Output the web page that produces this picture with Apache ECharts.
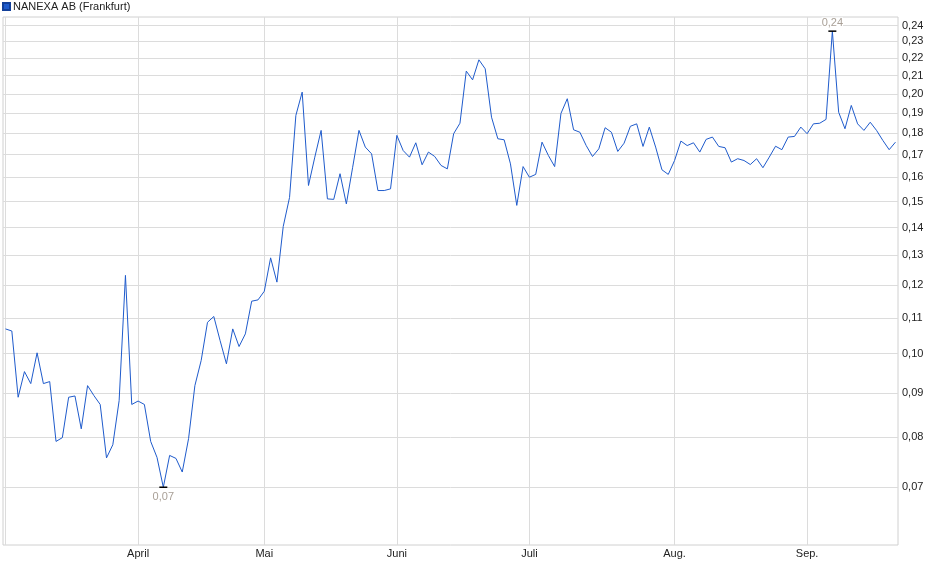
<!DOCTYPE html>
<html>
<head>
<meta charset="utf-8">
<script src="https://cdn.jsdelivr.net/npm/echarts@6/dist/echarts.min.js"></script>
<style>
  html, body { margin: 0; padding: 0; background: #fff; }
  #chart { width: 940px; height: 579px; }
</style>
</head>
<body>
<div id="chart"></div>
<script>
// Trading days (Frankfurt), 2025
const dates = [
  '2025-03-03','2025-03-04','2025-03-05','2025-03-06','2025-03-07',
  '2025-03-10','2025-03-11','2025-03-12','2025-03-13','2025-03-14',
  '2025-03-17','2025-03-18','2025-03-19','2025-03-20','2025-03-21',
  '2025-03-24','2025-03-25','2025-03-26','2025-03-27','2025-03-28',
  '2025-03-31',
  '2025-04-01','2025-04-02','2025-04-03','2025-04-04',
  '2025-04-07','2025-04-08','2025-04-09','2025-04-10','2025-04-11',
  '2025-04-14','2025-04-15','2025-04-16','2025-04-17',
  '2025-04-22','2025-04-23','2025-04-24','2025-04-25',
  '2025-04-28','2025-04-29','2025-04-30',
  '2025-05-02',
  '2025-05-05','2025-05-06','2025-05-07','2025-05-08','2025-05-09',
  '2025-05-12','2025-05-13','2025-05-14','2025-05-15','2025-05-16',
  '2025-05-19','2025-05-20','2025-05-21','2025-05-22','2025-05-23',
  '2025-05-26','2025-05-27','2025-05-28','2025-05-29','2025-05-30',
  '2025-06-02','2025-06-03','2025-06-04','2025-06-05','2025-06-06',
  '2025-06-09','2025-06-10','2025-06-11','2025-06-12','2025-06-13',
  '2025-06-16','2025-06-17','2025-06-18','2025-06-19','2025-06-20',
  '2025-06-23','2025-06-24','2025-06-25','2025-06-26','2025-06-27',
  '2025-06-30',
  '2025-07-01','2025-07-02','2025-07-03','2025-07-04',
  '2025-07-07','2025-07-08','2025-07-09','2025-07-10','2025-07-11',
  '2025-07-14','2025-07-15','2025-07-16','2025-07-17','2025-07-18',
  '2025-07-21','2025-07-22','2025-07-23','2025-07-24','2025-07-25',
  '2025-07-28','2025-07-29','2025-07-30','2025-07-31',
  '2025-08-01',
  '2025-08-04','2025-08-05','2025-08-06','2025-08-07','2025-08-08',
  '2025-08-11','2025-08-12','2025-08-13','2025-08-14','2025-08-15',
  '2025-08-18','2025-08-19','2025-08-20','2025-08-21','2025-08-22',
  '2025-08-25','2025-08-26','2025-08-27','2025-08-28','2025-08-29',
  '2025-09-01','2025-09-02','2025-09-03','2025-09-04','2025-09-05',
  '2025-09-08','2025-09-09','2025-09-10','2025-09-11','2025-09-12',
  '2025-09-15','2025-09-16','2025-09-17','2025-09-18','2025-09-19'
];

// Closing prices (EUR)
const prices = [
  0.1068,0.1062,0.0890,0.0953,0.0923,0.1002,0.0923,0.0928,0.0791,0.0799,
  0.0890,0.0893,0.0818,0.0918,0.0894,0.0873,0.0757,0.0784,0.0882,0.1232,
  0.0873,
  0.0881,0.0873,0.0791,0.0758,0.0700,0.0762,0.0756,0.0729,0.0797,0.0918,
  0.0982,0.1087,0.1104,0.1035,0.0973,0.1068,0.1019,0.1054,0.1150,0.1154,
  0.1181,
  0.1291,0.1210,0.1404,0.1517,0.1888,0.2009,0.1566,0.1689,0.1814,0.1511,
  0.1509,0.1616,0.1491,0.1644,0.1814,0.1735,0.1704,0.1545,0.1545,0.1552,
  0.1790,0.1719,0.1689,0.1755,0.1655,0.1712,0.1692,0.1652,0.1637,0.1798,
  0.1849,0.2125,0.2076,0.2190,0.2138,0.1879,0.1774,0.1769,0.1659,0.1485,
  0.1647,
  0.1601,0.1613,0.1758,0.1697,0.1647,0.1898,0.1974,0.1817,0.1805,0.1742,
  0.1692,0.1727,0.1827,0.1805,0.1715,0.1753,0.1834,0.1846,0.1738,0.1830,
  0.1735,0.1633,0.1613,
  0.1674,0.1763,0.1742,0.1755,0.1712,0.1771,0.1782,0.1738,0.1732,0.1667,
  0.1682,0.1674,0.1656,0.1682,0.1642,0.1689,0.1739,0.1723,0.1782,0.1785,
  0.1830,
  0.1798,0.1846,0.1849,0.1868,0.2364,0.1904,0.1822,0.1939,0.1846,0.1814,
  0.1854,0.1814,0.1766,0.1723,0.1758
];

const monthNames = ['März','April','Mai','Juni','Juli','Aug.','Sep.'];
const yTicks = [0.07,0.08,0.09,0.10,0.11,0.12,0.13,0.14,0.15,0.16,0.17,0.18,0.19,0.20,0.21,0.22,0.23,0.24];
const seriesName = 'NANEXA AB (Frankfurt)';

// first trading day index of each month
const monthStarts = [];
dates.forEach((d, i) => {
  if (i === 0 || d.slice(5, 7) !== dates[i - 1].slice(5, 7)) monthStarts.push(i);
});
const labelStarts = monthStarts.slice(1);
const fmt = v => v.toFixed(2).replace('.', ',');

const chart = echarts.init(document.getElementById('chart'), null, { renderer: 'canvas' });
chart.setOption({
  animation: false,
  backgroundColor: '#ffffff',
  textStyle: { fontFamily: 'Liberation Sans, Arial, sans-serif' },
  legend: {
    show: true,
    left: 2,
    top: 1,
    padding: 0,
    icon: 'rect',
    itemWidth: 7,
    itemHeight: 7,
    selectedMode: false,
    data: [seriesName],
    textStyle: { fontSize: 11, color: '#222', padding: [0, 0, 0, -2] }
  },
  grid: {
    left: 3, right: 42, top: 17, bottom: 34,
    show: true, borderColor: '#d0d0d0', borderWidth: 1, backgroundColor: 'transparent'
  },
  xAxis: {
    type: 'value',
    min: -0.4,
    max: dates.length - 1 + 0.4,
    axisLine: { show: false },
    axisTick: { show: false, customValues: monthStarts },
    splitLine: { show: true, lineStyle: { color: '#dcdcdc', width: 1 } },
    axisLabel: {
      customValues: labelStarts,
      formatter: v => monthNames[monthStarts.indexOf(Math.round(v))] || '',
      fontSize: 11, color: '#222', margin: 3
    }
  },
  yAxis: {
    type: 'log',
    logBase: 10,
    position: 'right',
    min: 0.06,
    max: 0.2455,
    axisLine: { show: false },
    axisTick: { show: false, customValues: yTicks },
    splitLine: { show: true, lineStyle: { color: '#dcdcdc', width: 1 } },
    axisLabel: {
      customValues: yTicks,
      formatter: v => fmt(v),
      fontSize: 11, color: '#222', margin: 4
    }
  },
  series: [{
    name: seriesName,
    type: 'line',
    data: prices.map((p, i) => [i, p]),
    showSymbol: false,
    symbol: 'none',
    lineStyle: { color: '#1f5bcc', width: 1 },
    itemStyle: { color: '#1f5bcc', borderColor: '#123f99', borderWidth: 0.5 },
    markPoint: {
      symbol: 'rect',
      symbolSize: [8, 1.5],
      itemStyle: { color: '#000' },
      data: [
        { type: 'max', label: { position: 'top', distance: 2, backgroundColor: '#fff' } },
        { type: 'min', label: { position: 'bottom', distance: 3 } }
      ],
      label: {
        show: true,
        formatter: p => fmt(p.value),
        color: '#a9a097',
        fontSize: 11
      }
    }
  }]
});
</script>
</body>
</html>
